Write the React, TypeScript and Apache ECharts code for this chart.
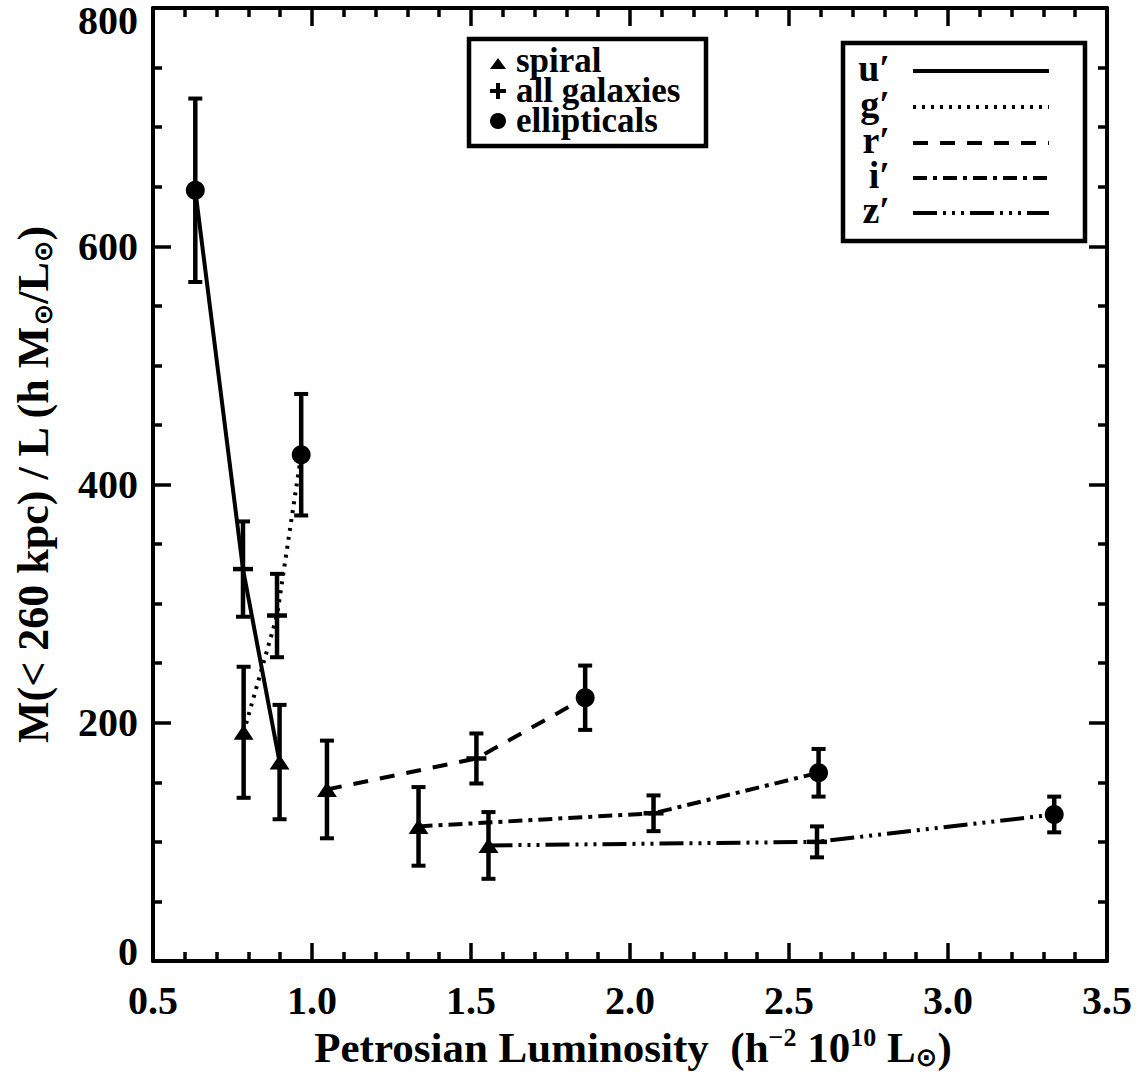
import React, { useEffect, useRef } from "react";
import * as echarts from "echarts";

// ---- data ----
const bands = ["u′", "g′", "r′", "i′", "z′"];
const spiralX = [0.898, 0.785, 1.047, 1.335, 1.555];
const spiralY = [167, 192, 144, 113, 97];
const spiralErr = [48, 55, 41, 33, 28];
const allX = [0.783, 0.89, 1.517, 2.074, 2.588];
const allY = [329, 290, 170, 124, 100];
const allErr = [40, 35, 21, 15, 13];
const ellX = [0.633, 0.966, 1.859, 2.593, 3.334];
const ellY = [647, 425, 221, 158, 123];
const ellErr = [77, 51, 27, 20, 15];
const typeLabels = ["spiral", "all galaxies", "ellipticals"];

const FONT = '"Liberation Serif", "Times New Roman", serif';
const dashes: (number[] | "solid")[] = [
  "solid",
  [3, 6],
  [15, 12],
  [14, 6, 4, 6],
  [24, 6, 3, 6, 3, 6, 3, 6],
];

function errRender(withCross: boolean) {
  return (_params: any, api: any) => {
    const x = api.value(0);
    const y = api.value(1);
    const e = api.value(2);
    const t = api.coord([x, y + e]);
    const b = api.coord([x, y - e]);
    const c = api.coord([x, y]);
    const cap = 7;
    const style = { stroke: "#000", lineWidth: 4.5 };
    const capStyle = { stroke: "#000", lineWidth: 4 };
    const children: any[] = [
      { type: "line", shape: { x1: t[0], y1: t[1], x2: b[0], y2: b[1] }, style },
      { type: "line", shape: { x1: t[0] - cap, y1: t[1], x2: t[0] + cap, y2: t[1] }, style: capStyle },
      { type: "line", shape: { x1: b[0] - cap, y1: b[1], x2: b[0] + cap, y2: b[1] }, style: capStyle },
    ];
    if (withCross) {
      children.push({
        type: "line",
        shape: { x1: c[0] - 10, y1: c[1], x2: c[0] + 10, y2: c[1] },
        style: { stroke: "#000", lineWidth: 4.5 },
      });
    }
    return { type: "group", children };
  };
}

function makeAxis(position: string, min: number, max: number, interval: number, minorSplit: number, label: any) {
  return {
    type: "value",
    position,
    min,
    max,
    interval,
    axisLine: { show: true, onZero: false, lineStyle: { color: "#000", width: 4 } },
    axisTick: { show: true, inside: true, length: 18, lineStyle: { color: "#000", width: 3.5 } },
    minorTick: { show: true, splitNumber: minorSplit, length: 9, lineStyle: { color: "#000", width: 3.5 } },
    splitLine: { show: false },
    minorSplitLine: { show: false },
    axisLabel: label,
  };
}

export default function App() {
  const ref = useRef<HTMLDivElement>(null);
  useEffect(() => {
    document.body.style.margin = "0";
    const chart = echarts.init(ref.current!, undefined, { renderer: "svg" });

    const lineSeries = bands.map((b, i) => ({
      type: "line",
      name: b,
      data: [
        [spiralX[i], spiralY[i]],
        [allX[i], allY[i]],
        [ellX[i], ellY[i]],
      ],
      symbol: "none",
      lineStyle: { color: "#000", width: 4, type: dashes[i], cap: "butt" },
      z: 2,
    }));

    const legendText = (text: string, x: number, y: number) => ({
      type: "text",
      style: {
        text,
        x,
        y,
        font: `bold 35px ${FONT}`,
        fill: "#000",
        textAlign: "left",
        textVerticalAlign: "middle",
      },
      z: 100,
    });

    const bandRowsY = [71, 107, 143, 178, 213];

    const graphic: any[] = [
      // symbol legend
      {
        type: "rect",
        shape: { x: 469, y: 39, width: 237, height: 107 },
        style: { fill: "#fff", stroke: "#000", lineWidth: 4.5 },
        z: 90,
      },
      {
        type: "polygon",
        shape: { points: [[490, 69], [506, 69], [498, 58]] },
        style: { fill: "#000" },
        z: 100,
      },
      { type: "line", shape: { x1: 490, y1: 91, x2: 506, y2: 91 }, style: { stroke: "#000", lineWidth: 4 }, z: 100 },
      { type: "line", shape: { x1: 498, y1: 83, x2: 498, y2: 99 }, style: { stroke: "#000", lineWidth: 4 }, z: 100 },
      { type: "circle", shape: { cx: 498, cy: 121, r: 8 }, style: { fill: "#000" }, z: 100 },
      legendText(typeLabels[0], 516, 60),
      legendText(typeLabels[1], 516, 90),
      legendText(typeLabels[2], 516, 120),
      // band legend
      {
        type: "rect",
        shape: { x: 843, y: 43, width: 242, height: 198 },
        style: { fill: "#fff", stroke: "#000", lineWidth: 4.5 },
        z: 90,
      },
      ...bands.map((b, i) => ({
        type: "text",
        style: {
          text: b,
          x: 890,
          y: bandRowsY[i] - 3,
          font: `bold 38px ${FONT}`,
          fill: "#000",
          textAlign: "right",
          textVerticalAlign: "middle",
        },
        z: 100,
      })),
      ...bands.map((_b, i) => ({
        type: "line",
        shape: { x1: 913, y1: bandRowsY[i], x2: 1049, y2: bandRowsY[i] },
        style: {
          stroke: "#000",
          lineWidth: 4,
          lineDash: dashes[i] === "solid" ? null : dashes[i],
          lineCap: "butt",
        },
        z: 100,
      })),
      // x axis title
      {
        type: "text",
        style: {
          text: "{a|Petrosian Luminosity  (h}{sup|−2}{a| 10}{sup|10}{a| L}{sub|⊙}{a|)}",
          x: 633,
          y: 1047,
          textAlign: "center",
          textVerticalAlign: "middle",
          rich: {
            a: { fontFamily: FONT, fontWeight: "bold", fontSize: 43, lineHeight: 46, color: "#000" },
            sup: { fontFamily: FONT, fontWeight: "bold", fontSize: 26, lineHeight: 14, verticalAlign: "top", color: "#000" },
            sub: { fontFamily: '"DejaVu Sans", sans-serif', fontWeight: "bold", fontSize: 26, lineHeight: 12, verticalAlign: "bottom", color: "#000" },
          },
        },
      },
      // y axis title
      {
        type: "text",
        x: 33,
        y: 485,
        rotation: Math.PI / 2,
        style: {
          text: "{a|M(< 260 kpc) / L (h M}{sub|⊙}{a|/L}{sub|⊙}{a|)}",
          x: 0,
          y: 0,
          textAlign: "center",
          textVerticalAlign: "middle",
          rich: {
            a: { fontFamily: FONT, fontWeight: "bold", fontSize: 44, lineHeight: 46, color: "#000" },
            sub: { fontFamily: '"DejaVu Sans", sans-serif', fontWeight: "bold", fontSize: 26, lineHeight: 12, verticalAlign: "bottom", color: "#000" },
          },
        },
      },
    ];

    const tickFont = { color: "#000", fontFamily: FONT, fontWeight: "bold", fontSize: 40 };

    chart.setOption({
      animation: false,
      backgroundColor: "#fff",
      grid: { left: 153, right: 36, top: 8, bottom: 116, containLabel: false },
      xAxis: [
        makeAxis("bottom", 0.5, 3.5, 0.5, 5, {
          show: true,
          margin: 19,
          ...tickFont,
          formatter: (v: number) => v.toFixed(1),
        }),
        makeAxis("top", 0.5, 3.5, 0.5, 5, { show: false }),
      ],
      yAxis: [
        makeAxis("left", 0, 800, 200, 4, {
          show: true,
          margin: 15,
          ...tickFont,
          formatter: (v: number) => (v === 800 ? "{t|800}" : v === 0 ? "{b|0}" : String(v)),
          rich: {
            t: { ...tickFont, padding: [24, 0, 0, 0] },
            b: { ...tickFont, padding: [0, 0, 20, 0] },
          },
        }),
        makeAxis("right", 0, 800, 200, 4, { show: false }),
      ],
      series: [
        ...lineSeries,
        {
          type: "custom",
          name: "spiral err",
          renderItem: errRender(false),
          data: spiralX.map((x, i) => [x, spiralY[i], spiralErr[i]]),
          encode: { x: 0, y: 1 },
          clip: false,
          z: 3,
        },
        {
          type: "custom",
          name: "all err",
          renderItem: errRender(true),
          data: allX.map((x, i) => [x, allY[i], allErr[i]]),
          encode: { x: 0, y: 1 },
          clip: false,
          z: 3,
        },
        {
          type: "custom",
          name: "ell err",
          renderItem: errRender(false),
          data: ellX.map((x, i) => [x, ellY[i], ellErr[i]]),
          encode: { x: 0, y: 1 },
          clip: false,
          z: 3,
        },
        {
          type: "scatter",
          name: "spiral",
          symbol: "triangle",
          symbolSize: [20, 15],
          itemStyle: { color: "#000", opacity: 1 },
          data: spiralX.map((x, i) => [x, spiralY[i]]),
          z: 4,
        },
        {
          type: "scatter",
          name: "ellipticals",
          symbol: "circle",
          symbolSize: 19,
          itemStyle: { color: "#000", opacity: 1 },
          data: ellX.map((x, i) => [x, ellY[i]]),
          z: 4,
        },
      ],
      graphic,
    });
    return () => chart.dispose();
  }, []);

  return (
    <div
      ref={ref}
      style={{ width: 1143, height: 1077, position: "absolute", left: 0, top: 0, background: "#fff" }}
    />
  );
}
